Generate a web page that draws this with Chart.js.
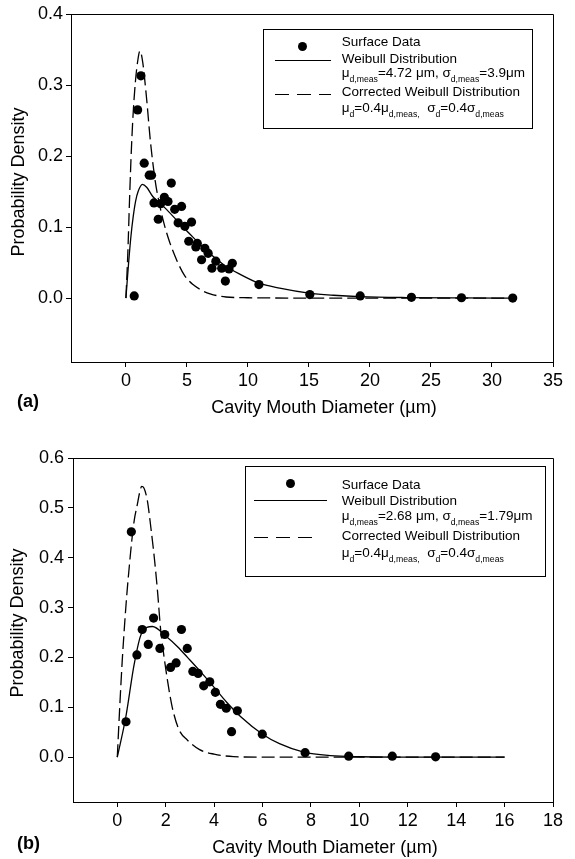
<!DOCTYPE html>
<html>
<head>
<meta charset="utf-8">
<title>Cavity mouth diameter distributions</title>
<script src="https://cdn.jsdelivr.net/npm/chart.js@4.4.1/dist/chart.umd.min.js"></script>
<style>
  body { margin: 0; background: #fff; }
  .page { position: relative; width: 575px; height: 859px; overflow: hidden; font-family: "Liberation Sans", Arial, sans-serif; color: #000; }
  .page canvas { position: absolute; left: 0; }
  .legend-box { position: absolute; border: 1.3px solid #000; box-sizing: border-box; }
  .dot { position: absolute; width: 9px; height: 9px; border-radius: 50%; background: #000; }
  .solid { position: absolute; height: 0; border-top: 1.3px solid #000; }
  .dash { position: absolute; height: 1.3px; background: repeating-linear-gradient(to right, #000 0 14px, transparent 14px 22px); }
  .lg { position: absolute; left: 341.7px; font-size: 13.5px; line-height: 16px; white-space: nowrap; }
  .lg sub { font-size: 8.7px; vertical-align: -4.5px; line-height: 0; }
</style>
</head>
<body>
<div class="page">
  <canvas id="chartA" width="575" height="430" style="top:0"></canvas>
  <canvas id="chartB" width="575" height="429" style="top:430px"></canvas>

  <!-- legend (a) -->
  <div class="legend-box" style="left:263px;top:29px;width:270px;height:100px"></div>
  <div class="dot" style="left:298px;top:41.5px"></div>
  <div class="solid" style="left:275px;top:60px;width:56px"></div>
  <div class="dash" style="left:275px;top:93.5px;width:56px"></div>
  <div class="lg" style="top:33.9px">Surface Data</div>
  <div class="lg" style="top:51px">Weibull Distribution</div>
  <div class="lg" style="top:65.4px">&mu;<sub>d,meas</sub>=4.72 &mu;m, &sigma;<sub>d,meas</sub>=3.9&mu;m</div>
  <div class="lg" style="top:84.4px">Corrected Weibull Distribution</div>
  <div class="lg" style="top:100px">&mu;<sub>d</sub>=0.4&mu;<sub>d,meas,</sub>&nbsp;&nbsp;&sigma;<sub>d</sub>=0.4&sigma;<sub>d,meas</sub></div>

  <!-- legend (b) -->
  <div class="legend-box" style="left:245px;top:466px;width:301px;height:111px"></div>
  <div class="dot" style="left:286px;top:479px"></div>
  <div class="solid" style="left:254px;top:500px;width:73px"></div>
  <div class="dash" style="left:254px;top:537px;width:66px"></div>
  <div class="lg" style="top:476.9px">Surface Data</div>
  <div class="lg" style="top:493.2px">Weibull Distribution</div>
  <div class="lg" style="top:508.4px">&mu;<sub>d,meas</sub>=2.68 &mu;m, &sigma;<sub>d,meas</sub>=1.79&mu;m</div>
  <div class="lg" style="top:527.7px">Corrected Weibull Distribution</div>
  <div class="lg" style="top:544.7px">&mu;<sub>d</sub>=0.4&mu;<sub>d,meas,</sub>&nbsp;&nbsp;&sigma;<sub>d</sub>=0.4&sigma;<sub>d,meas</sub></div>
</div>

<script>
// ---- panel (a) ----
const xTicksA = [0, 5, 10, 15, 20, 25, 30, 35];
const yTicksA = [0.0, 0.1, 0.2, 0.3, 0.4];

const surfaceXA = [0.68, 0.96, 1.23, 1.50, 1.91, 2.10, 2.30, 2.65, 2.85, 3.15, 3.45, 3.72, 4.00, 4.28, 4.56, 4.83, 5.15, 5.38, 5.73, 5.85, 6.20, 6.47, 6.74, 7.05, 7.37, 7.85, 8.15, 8.45, 8.72, 10.9, 15.07, 19.2, 23.4, 27.5, 31.7];
const surfaceYA = [0.003, 0.265, 0.313, 0.190, 0.173, 0.173, 0.134, 0.111, 0.133, 0.142, 0.136, 0.162, 0.125, 0.106, 0.129, 0.101, 0.080, 0.107, 0.072, 0.077, 0.054, 0.070, 0.063, 0.042, 0.052, 0.042, 0.024, 0.041, 0.049, 0.019, 0.005, 0.003, 0.001, 0.0005, 0.0];

const weibullXA = [0, 0.2, 0.4, 0.6, 0.8, 1.0, 1.35, 1.7, 2.2, 3.2, 4.2, 5.2, 6.6, 8.1, 9.3, 10.9, 12.6, 15, 17, 19.2, 23, 27.5, 31.7];
const weibullYA = [0, 0.045, 0.085, 0.115, 0.137, 0.150, 0.160, 0.156, 0.143, 0.127, 0.109, 0.091, 0.067, 0.046, 0.034, 0.021, 0.014, 0.007, 0.004, 0.002, 0.0007, 0.0002, 0];

const correctedXA = [0, 0.15, 0.3, 0.45, 0.6, 0.78, 0.96, 1.15, 1.37, 1.7, 2.0, 2.4, 2.8, 3.2, 3.6, 4.2, 4.8, 5.5, 6.2, 6.9, 8.2, 10, 15, 20, 25, 31.7];
const correctedYA = [0, 0.06, 0.14, 0.21, 0.262, 0.305, 0.333, 0.348, 0.333, 0.28, 0.222, 0.165, 0.128, 0.100, 0.078, 0.052, 0.032, 0.019, 0.011, 0.006, 0.0015, 0.0005, 0, 0, 0, 0];

// ---- panel (b) ----
const xTicksB = [0, 2, 4, 6, 8, 10, 12, 14, 16, 18];
const yTicksB = [0.0, 0.1, 0.2, 0.3, 0.4, 0.5, 0.6];

const surfaceXB = [0.36, 0.58, 0.81, 1.03, 1.28, 1.50, 1.76, 1.96, 2.20, 2.43, 2.65, 2.89, 3.12, 3.34, 3.57, 3.82, 4.05, 4.26, 4.50, 4.72, 4.96, 5.99, 7.76, 9.56, 11.36, 13.15];
const surfaceYB = [0.071, 0.452, 0.205, 0.256, 0.226, 0.279, 0.218, 0.246, 0.180, 0.189, 0.256, 0.218, 0.172, 0.168, 0.143, 0.151, 0.130, 0.106, 0.098, 0.051, 0.093, 0.046, 0.009, 0.002, 0.002, 0.0006];

const weibullXB = [0, 0.35, 0.7, 1.0, 1.45, 2.0, 2.5, 2.9, 3.5, 4.0, 4.5, 5.1, 6.0, 6.7, 7.7, 8.8, 10, 12, 14, 16];
const weibullYB = [0, 0.08, 0.187, 0.248, 0.262, 0.243, 0.221, 0.200, 0.168, 0.140, 0.111, 0.081, 0.046, 0.027, 0.010, 0.003, 0.0008, 0.0001, 0, 0];

const correctedXB = [0, 0.1, 0.2, 0.3, 0.4, 0.5, 0.6, 0.7, 0.82, 0.92, 1.01, 1.1, 1.24, 1.40, 1.54, 1.67, 1.78, 1.88, 2.06, 2.27, 2.55, 2.9, 3.4, 4.0, 4.8, 6, 8, 10, 12, 14, 16];
const correctedYB = [0, 0.10, 0.19, 0.265, 0.33, 0.385, 0.435, 0.475, 0.505, 0.53, 0.543, 0.54, 0.515, 0.455, 0.395, 0.328, 0.261, 0.22, 0.158, 0.10, 0.055, 0.034, 0.015, 0.006, 0.001, 0, 0, 0, 0, 0, 0];

const FONT = '"Liberation Sans", Arial, sans-serif';
Chart.defaults.font.family = FONT;
Chart.defaults.font.size = 18;
Chart.defaults.color = '#000';

function pairs(xs, ys) {
    return xs.map((x, i) => ({ x: x, y: ys[i] }));
}

// box frame, axis titles and the panel letter
const frameAndTitles = {
    id: 'frameAndTitles',
    afterDraw(chart, args, opts) {
        const ctx = chart.ctx;
        const a = chart.chartArea;
        ctx.save();
        ctx.strokeStyle = '#000';
        ctx.lineWidth = 1;
        ctx.beginPath();
        ctx.moveTo(Math.round(a.left), Math.round(a.top) + 0.5);
        ctx.lineTo(Math.round(a.right) + 0.5, Math.round(a.top) + 0.5);
        ctx.lineTo(Math.round(a.right) + 0.5, Math.round(a.bottom));
        ctx.stroke();

        ctx.fillStyle = '#000';
        ctx.font = '18px ' + FONT;
        ctx.textAlign = 'center';
        ctx.textBaseline = 'alphabetic';
        ctx.fillText('Cavity Mouth Diameter (\u00b5m)', opts.xTitle[0], opts.xTitle[1]);

        ctx.save();
        ctx.translate(opts.yTitle[0], opts.yTitle[1]);
        ctx.rotate(-Math.PI / 2);
        ctx.textBaseline = 'middle';
        ctx.fillText('Probability Density', 0, 0);
        ctx.restore();

        ctx.font = 'bold 18px ' + FONT;
        ctx.textAlign = 'left';
        ctx.fillText(opts.panel, opts.panelPos[0], opts.panelPos[1]);
        ctx.restore();
    }
};

function makeChart(id, cfg) {
    const axisGrid = { display: true, drawOnChartArea: false, drawTicks: true, tickLength: 5, color: '#000', lineWidth: 1 };
    return new Chart(document.getElementById(id), {
        type: 'scatter',
        data: {
            datasets: [
                {
                    label: 'Surface Data',
                    data: cfg.surface,
                    showLine: false,
                    pointRadius: 4.6,
                    pointBackgroundColor: '#000',
                    pointBorderColor: '#000',
                    pointBorderWidth: 0
                },
                {
                    label: 'Weibull Distribution',
                    data: cfg.weibull,
                    showLine: true,
                    pointRadius: 0,
                    borderColor: '#000',
                    borderWidth: 1.3,
                    cubicInterpolationMode: 'monotone'
                },
                {
                    label: 'Corrected Weibull Distribution',
                    data: cfg.corrected,
                    showLine: true,
                    pointRadius: 0,
                    borderColor: '#000',
                    borderWidth: 1.3,
                    borderDash: [13, 5],
                    cubicInterpolationMode: 'monotone'
                }
            ]
        },
        options: {
            responsive: false,
            animation: false,
            events: [],
            layout: { padding: cfg.padding },
            plugins: {
                legend: { display: false },
                tooltip: { enabled: false },
                frameAndTitles: cfg.titles
            },
            scales: {
                x: {
                    type: 'linear',
                    min: cfg.xMin,
                    max: cfg.xMax,
                    grid: axisGrid,
                    border: { display: true, color: '#000', width: 1 },
                    ticks: { padding: 3, maxRotation: 0, callback: v => String(v) },
                    afterBuildTicks: s => { s.ticks = cfg.xTicks.map(v => ({ value: v })); },
                    afterFit: s => { s.height = cfg.xHeight; }
                },
                y: {
                    type: 'linear',
                    min: cfg.yMin,
                    max: cfg.yMax,
                    grid: axisGrid,
                    border: { display: true, color: '#000', width: 1 },
                    ticks: { padding: cfg.yPad, callback: v => Number(v).toFixed(1) },
                    afterBuildTicks: s => { s.ticks = cfg.yTicks.map(v => ({ value: v })); },
                    afterFit: s => { s.width = cfg.yWidth; }
                }
            }
        },
        plugins: [frameAndTitles]
    });
}

makeChart('chartA', {
    surface: pairs(surfaceXA, surfaceYA),
    weibull: pairs(weibullXA, weibullYA),
    corrected: pairs(correctedXA, correctedYA),
    xTicks: xTicksA, yTicks: yTicksA,
    xMin: -4.5, xMax: 35, yMin: -0.09, yMax: 0.4,
    padding: { top: 14, right: 22, left: 0, bottom: 0 },
    xHeight: 68, yWidth: 71, yPad: 3,
    titles: { xTitle: [324, 413], yTitle: [19.5, 182], panel: '(a)', panelPos: [17, 407] }
});

makeChart('chartB', {
    surface: pairs(surfaceXB, surfaceYB),
    weibull: pairs(weibullXB, weibullYB),
    corrected: pairs(correctedXB, correctedYB),
    xTicks: xTicksB, yTicks: yTicksB,
    xMin: -1.83, xMax: 18, yMin: -0.09, yMax: 0.6,
    padding: { top: 28, right: 22, left: 0, bottom: 0 },
    xHeight: 57, yWidth: 73, yPad: 4,
    titles: { xTitle: [325, 423], yTitle: [18.5, 193], panel: '(b)', panelPos: [17, 419] }
});
</script>
</body>
</html>
